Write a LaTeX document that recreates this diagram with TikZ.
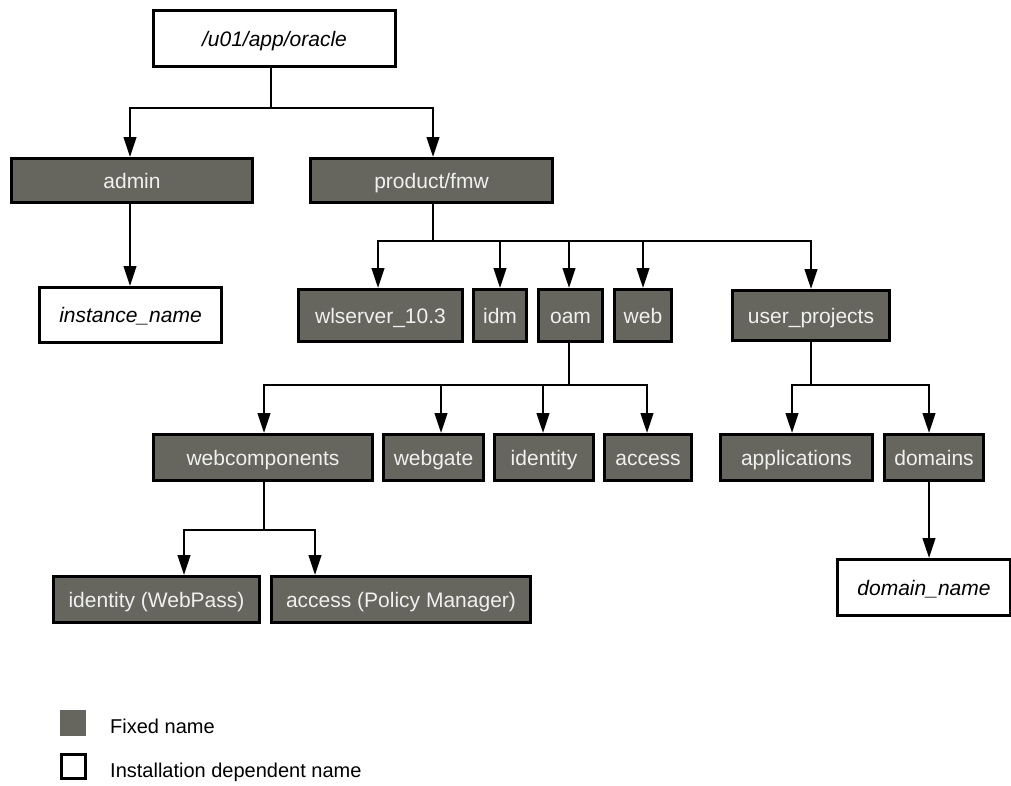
\documentclass[tikz,border=0pt]{standalone}
\usepackage{fontspec}
\setmainfont{Liberation Sans}
\usetikzlibrary{arrows.meta}
\definecolor{fixedgray}{RGB}{102,102,94}
\begin{document}
\begin{tikzpicture}[x=1pt,y=-1pt,
  box/.style={draw=black,line width=2.8pt,inner sep=0pt,font=\fontsize{21}{25}\selectfont,text height=15pt,text depth=0pt},
  fixed/.style={box,fill=fixedgray,text=white!94!black},
  dep/.style={box,fill=white,text=black,font=\fontsize{21}{25}\selectfont\itshape},
  arr/.style={line width=2.5pt,-{Triangle[width=12.5pt,length=20pt]}},
  legtext/.style={anchor=base west,inner sep=0pt,font=\fontsize{20}{24}\selectfont}]
\useasboundingbox (0,0) rectangle (1011,785);

% nodes
\node[dep,minimum width=242.2pt,minimum height=56.2pt] (root) at (274.5,38.5) {/u01/app/oracle};
\node[fixed,minimum width=241.2pt,minimum height=44.2pt] (admin) at (132,180.5) {admin};
\node[fixed,minimum width=242.2pt,minimum height=44.2pt] (fmw) at (431.5,180.5) {product/fmw};
\node[dep,minimum width=182.2pt,minimum height=55.2pt] (inst) at (130.5,315) {instance\_name};
\node[fixed,minimum width=164.2pt,minimum height=52.2pt] (wls) at (380.5,315.5) {wlserver\_10.3};
\node[fixed,minimum width=53.2pt,minimum height=52.2pt] (idm) at (500,315.5) {idm};
\node[fixed,minimum width=64.2pt,minimum height=52.2pt] (oam) at (570.5,315.5) {oam};
\node[fixed,minimum width=57.2pt,minimum height=52.2pt] (web) at (643,315.5) {web};
\node[fixed,minimum width=157.2pt,minimum height=50.2pt] (up) at (811,315.5) {user\_projects};
\node[fixed,minimum width=219.2pt,minimum height=46.2pt] (wc) at (263,457.5) {webcomponents};
\node[fixed,minimum width=100.2pt,minimum height=46.2pt] (wg) at (433.5,457.5) {webgate};
\node[fixed,minimum width=99.2pt,minimum height=46.2pt] (id) at (544,457.5) {identity};
\node[fixed,minimum width=87.2pt,minimum height=46.2pt] (acc) at (648,457.5) {access};
\node[fixed,minimum width=152.2pt,minimum height=46.2pt] (apps) at (796.5,457.5) {applications};
\node[fixed,minimum width=99.2pt,minimum height=46.2pt] (dom) at (934,457.5) {domains};
\node[dep,minimum width=173.2pt,minimum height=56.2pt] (dn) at (924,587.5) {domain\_name};
\node[fixed,minimum width=206.2pt,minimum height=46.2pt] (wp) at (156.5,599.5) {identity (WebPass)};
\node[fixed,minimum width=259.2pt,minimum height=46.2pt] (apm) at (401,599.5) {access (Policy Manager)};

% connectors
\draw[arr] ([xshift=-3.5pt]root.south) -- ++(0,40) -| ([xshift=-2pt]admin.north);
\draw[arr] ([xshift=-3.5pt]root.south) -- ++(0,40) -| ([xshift=1.5pt]fmw.north);
\draw[arr] ([xshift=-2pt]admin.south) -- ([xshift=-0.5pt]inst.north);

\draw[arr] ([xshift=1.5pt]fmw.south) -- ++(0,37) -| ([xshift=-2.5pt]wls.north);
\draw[arr] ([xshift=1.5pt]fmw.south) -- ++(0,37) -| (idm.north);
\draw[arr] ([xshift=1.5pt]fmw.south) -- ++(0,37) -| ([xshift=-1.5pt]oam.north);
\draw[arr] ([xshift=1.5pt]fmw.south) -- ++(0,37) -| (web.north);
\draw[arr] ([xshift=1.5pt]fmw.south) -- ++(0,37) -| (up.north);

\draw[arr] ([xshift=-1.5pt]oam.south) -- ++(0,42) -| ([xshift=1pt]wc.north);
\draw[arr] ([xshift=-1.5pt]oam.south) -- ++(0,42) -| ([xshift=7.5pt]wg.north);
\draw[arr] ([xshift=-1.5pt]oam.south) -- ++(0,42) -| ([xshift=-1pt]id.north);
\draw[arr] ([xshift=-1.5pt]oam.south) -- ++(0,42) -| ([xshift=-1pt]acc.north);

\draw[arr] (up.south) -- ++(0,43) -| ([xshift=-4.5pt]apps.north);
\draw[arr] (up.south) -- ++(0,43) -| ([xshift=-5pt]dom.north);
\draw[arr] ([xshift=-5pt]dom.south) -- ([xshift=5pt]dn.north);

\draw[arr] ([xshift=1pt]wc.south) -- ++(0,48) -| ([xshift=27.5pt]wp.north);
\draw[arr] ([xshift=1pt]wc.south) -- ++(0,48) -| ([xshift=-86pt]apm.north);

% legend
\node[fill=fixedgray,inner sep=0pt,minimum size=26pt] (lfix) at (73,723) {};
\node[draw=black,line width=2.8pt,inner sep=0pt,minimum size=24.2pt] (ldep) at (73.5,766.5) {};
\node[legtext] (tfix) at (110,733.5) {Fixed name};
\node[legtext] (tdep) at (110,777) {Installation dependent name};
\end{tikzpicture}
\end{document}
